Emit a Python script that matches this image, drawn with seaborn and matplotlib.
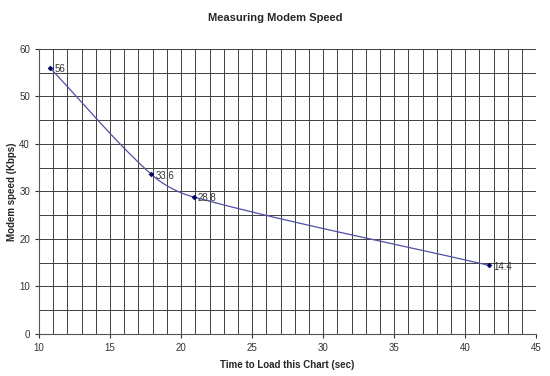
import numpy as np
import pandas as pd
import matplotlib
matplotlib.use("Agg")
import matplotlib.pyplot as plt
import seaborn as sns

times = [10.77, 17.9, 20.9, 41.7]
speeds = [56, 33.6, 28.8, 14.4]
labels = ["56", "33.6", "28.8", "14.4"]

sns.set_theme(style="white")
plt.rcParams['font.family'] = ['Liberation Sans', 'DejaVu Sans']

fig = plt.figure(figsize=(5.5, 3.76), dpi=100)
ax = fig.add_axes([0.071, 0.112, 0.904, 0.758])

df = pd.DataFrame({"time": times, "speed": speeds})

# smooth bezier through the data points (computed in display-like scale)
def smooth(xs, ys, kx=14.2, ky=4.75, n=40):
    P = np.column_stack([np.asarray(xs, float) * kx, np.asarray(ys, float) * ky])
    m = len(P)
    tang = []
    for i in range(m):
        a = P[max(i - 1, 0)]; b = P[min(i + 1, m - 1)]
        d = b - a
        tang.append(d / np.linalg.norm(d))
    out = []
    for i in range(m - 1):
        p0, p3 = P[i], P[i + 1]
        L = np.linalg.norm(p3 - p0) / 3
        p1 = p0 + tang[i] * L
        p2 = p3 - tang[i + 1] * L
        s = np.linspace(0, 1, n)[:, None]
        out.append((1-s)**3*p0 + 3*(1-s)**2*s*p1 + 3*(1-s)*s**2*p2 + s**3*p3)
    o = np.vstack(out)
    return o[:, 0] / kx, o[:, 1] / ky

sx, sy = smooth(times, speeds)
sm = pd.DataFrame({"time": sx, "speed": sy})
sns.lineplot(data=sm, x="time", y="speed", ax=ax, color="#5050a8", linewidth=0.9,
             sort=False, estimator=None)
sns.scatterplot(data=df, x="time", y="speed", ax=ax, color="#000066", s=7,
                marker="D", edgecolor="#000066", zorder=5)
for x, y, l in zip(times, speeds, labels):
    ax.annotate(l, (x, y), xytext=(3, -1), textcoords="offset points",
                fontsize=7, color="#333333", va="center", ha="left")

ax.set_xlim(10, 45)
ax.set_ylim(0, 60)
ax.set_xticks(np.arange(10, 46, 5))
ax.set_yticks(np.arange(0, 61, 10))
ax.set_xticks(np.arange(10, 46, 1), minor=True)
ax.set_yticks(np.arange(0, 61, 5), minor=True)
ax.grid(True, which="both", color="#404040", linewidth=0.7)
ax.set_axisbelow(True)
for s in ["top", "right"]:
    ax.spines[s].set_visible(False)
for s in ["left", "bottom"]:
    ax.spines[s].set_color("#555555")
    ax.spines[s].set_linewidth(0.8)
ax.tick_params(axis="both", which="major", labelsize=7, colors="#333333",
               length=3, width=0.8, direction="out", bottom=True, left=True)
ax.tick_params(axis="both", which="minor", length=0)
ax.set_xlabel("Time to Load this Chart (sec)", fontsize=7, fontweight="bold", labelpad=5)
ax.set_ylabel("Modem speed (Kbps)", fontsize=7, fontweight="bold")
ax.yaxis.set_label_coords(-0.044, 0.5)
fig.text(0.5, 0.952, "Measuring Modem Speed", fontsize=8, fontweight="bold",
         ha="center", va="center")

fig.savefig("out.png", dpi=100)
